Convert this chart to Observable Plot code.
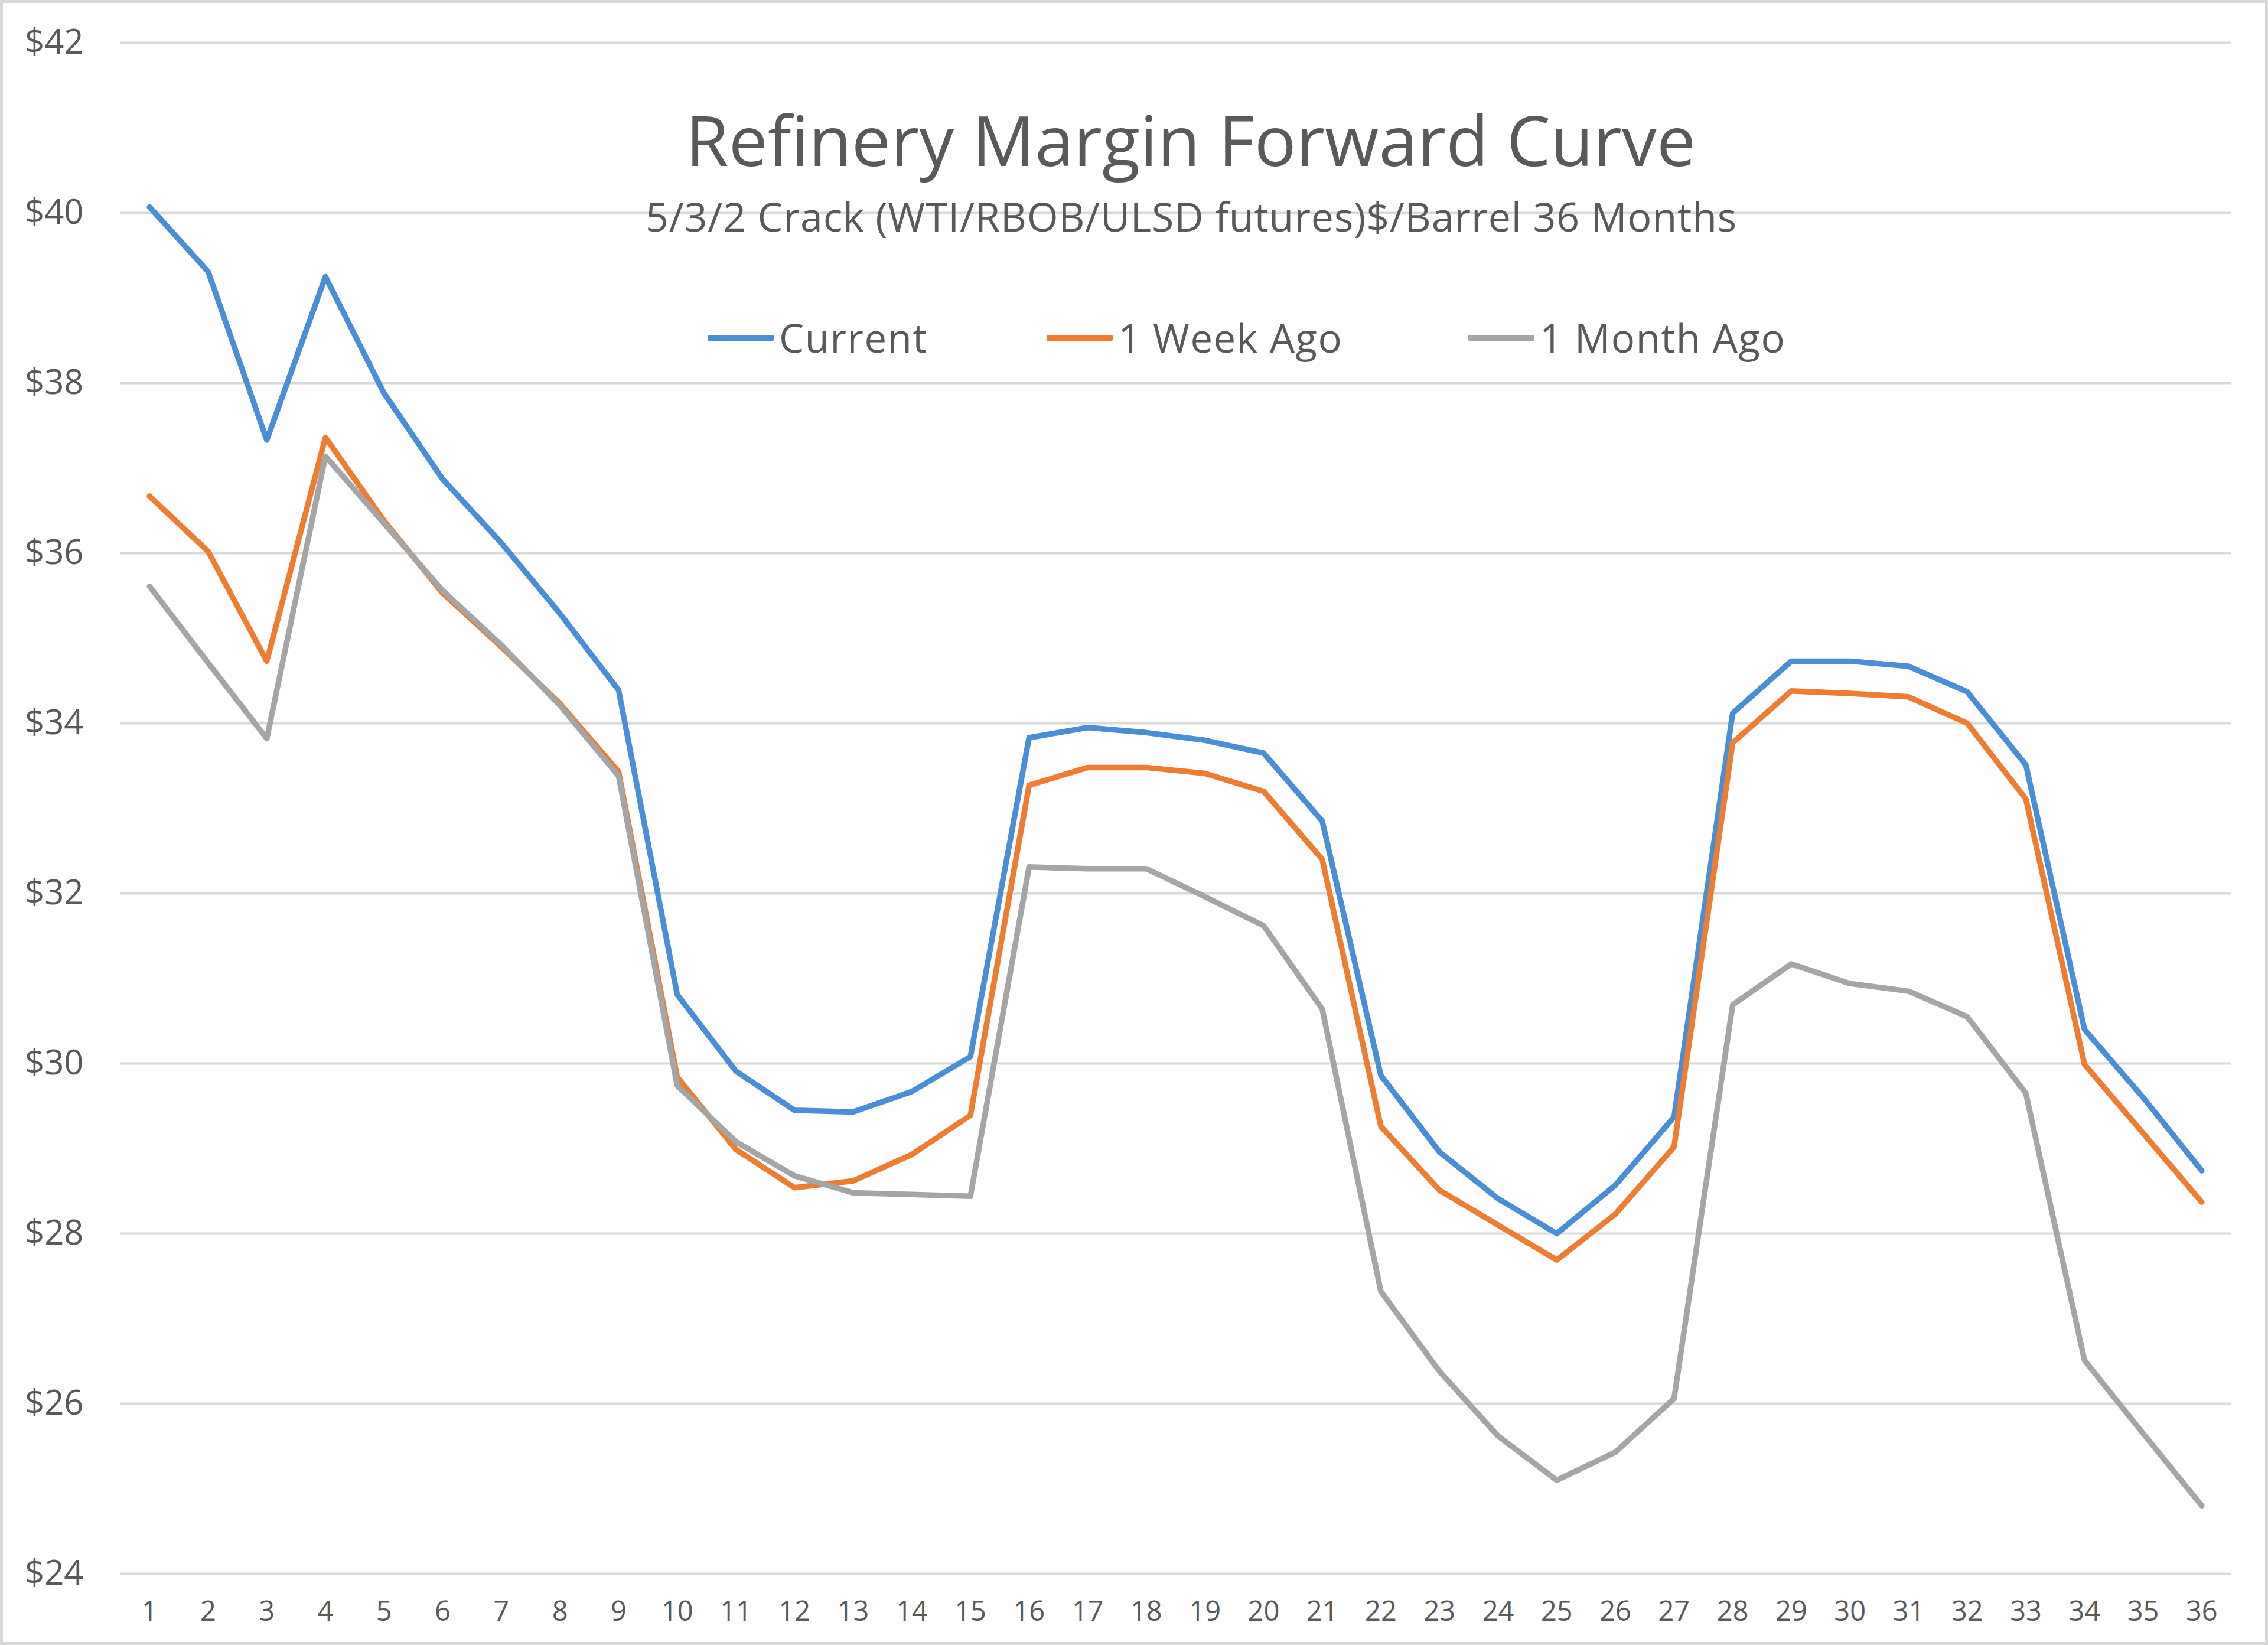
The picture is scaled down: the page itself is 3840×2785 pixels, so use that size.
<!DOCTYPE html>
<html>
<head>
<meta charset="utf-8">
<script src="https://cdn.jsdelivr.net/npm/d3@7"></script>
<script src="https://cdn.jsdelivr.net/npm/@observablehq/plot@0.6"></script>
<style>
  html, body { margin: 0; padding: 0; background: #fff; }
  #wrap { position: relative; width: 3840px; height: 2785px; overflow: hidden;
          font-family: "Open Sans", sans-serif; color: #595959; background: #fff; }
  #wrap svg { position: absolute; left: 0; top: 0; }
  .title { position: absolute; left: 2016px; top: 177px; transform: translateX(-50%);
           font-size: 118px; line-height: 1; white-space: nowrap; }
  .subtitle { position: absolute; left: 2017px; top: 332px; transform: translateX(-50%);
              font-size: 68px; letter-spacing: 0.9px; line-height: 1; white-space: nowrap; }
  .legend-item { position: absolute; top: 538px; display: flex; align-items: center;
                 font-size: 67px; letter-spacing: 1.6px; line-height: 1; white-space: nowrap; }
  .swatch { display: inline-block; width: 112px; height: 10px; margin-right: 9px; border-radius: 2px; }
  .border { position: absolute; inset: 0; border: 5px solid #d6d6d6; box-sizing: border-box; pointer-events: none; }
</style>
</head>
<body>
<div id="wrap"></div>
<script>
// ---- data ----
const months = [1,2,3,4,5,6,7,8,9,10,11,12,13,14,15,16,17,18,19,20,21,22,23,24,25,26,27,28,29,30,31,32,33,34,35,36];
const current = [40.07, 39.31, 37.33, 39.25, 37.88, 36.87, 36.12, 35.29, 34.39, 30.81, 29.91, 29.45, 29.43, 29.67, 30.08, 33.83, 33.95, 33.89, 33.80, 33.65, 32.85, 29.86, 28.96, 28.41, 28.00, 28.57, 29.37, 34.12, 34.73, 34.73, 34.67, 34.37, 33.51, 30.40, 29.60, 28.74];
const weekAgo = [36.67, 36.02, 34.73, 37.36, 36.38, 35.53, 34.90, 34.23, 33.43, 29.84, 28.99, 28.54, 28.62, 28.93, 29.39, 33.27, 33.48, 33.48, 33.41, 33.20, 32.40, 29.26, 28.51, 28.10, 27.69, 28.23, 29.02, 33.77, 34.38, 34.35, 34.31, 34.00, 33.11, 29.99, 29.18, 28.37];
const monthAgo = [35.61, 34.71, 33.82, 37.14, 36.35, 35.56, 34.92, 34.21, 33.38, 29.74, 29.08, 28.68, 28.48, 28.46, 28.44, 32.31, 32.29, 32.29, 31.96, 31.62, 30.64, 27.32, 26.38, 25.62, 25.10, 25.43, 26.06, 30.69, 31.17, 30.94, 30.85, 30.55, 29.65, 26.51, 25.65, 24.80];
const seriesNames = ["Current", "1 Week Ago", "1 Month Ago"];
const seriesColors = ["#4a8fd6", "#ed7d31", "#a5a5a5"];
const yTicks = [24, 26, 28, 30, 32, 34, 36, 38, 40, 42];
const titleText = "Refinery Margin Forward Curve";
const subtitleText = "5/3/2 Crack (WTI/RBOB/ULSD futures)$/Barrel 36 Months";

// ---- table ----
const rows = [];
[current, weekAgo, monthAgo].forEach((vals, k) => {
  vals.forEach((v, i) => rows.push({ month: months[i], value: v, series: seriesNames[k] }));
});

const chart = Plot.plot({
  width: 3840,
  height: 2785,
  marginTop: 72,
  marginBottom: 121,
  marginLeft: 203,
  marginRight: 63,
  style: { fontFamily: "Open Sans", color: "#595959", background: "transparent" },
  x: { domain: [0.5, 36.5] },
  y: { domain: [24, 42] },
  color: { domain: seriesNames, range: seriesColors },
  marks: [
    Plot.gridY(yTicks, { stroke: "#d9d9d9", strokeOpacity: 1, strokeWidth: 4 }),
    Plot.axisY(yTicks, { tickSize: 0, tickPadding: 62, tickFormat: d => "$" + d, fontSize: 58, label: null }),
    Plot.axisX(months, { tickSize: 0, tickPadding: 46, tickFormat: d => String(d), fontSize: 47, label: null }),
    Plot.line(rows, { x: "month", y: "value", stroke: "series", z: "series",
                      strokeWidth: 9.5, strokeLinejoin: "round", strokeLinecap: "round" })
  ]
});

const wrap = document.getElementById("wrap");
wrap.appendChild(chart);

const t = document.createElement("div");
t.className = "title"; t.textContent = titleText; wrap.appendChild(t);
const s = document.createElement("div");
s.className = "subtitle"; s.textContent = subtitleText; wrap.appendChild(s);

const legendLefts = [1198, 1772, 2486];
seriesNames.forEach((name, k) => {
  const item = document.createElement("div");
  item.className = "legend-item";
  item.style.left = legendLefts[k] + "px";
  const sw = document.createElement("span");
  sw.className = "swatch";
  sw.style.background = seriesColors[k];
  item.appendChild(sw);
  const lab = document.createElement("span");
  lab.textContent = name;
  item.appendChild(lab);
  wrap.appendChild(item);
});

const b = document.createElement("div");
b.className = "border"; wrap.appendChild(b);
</script>
</body>
</html>
